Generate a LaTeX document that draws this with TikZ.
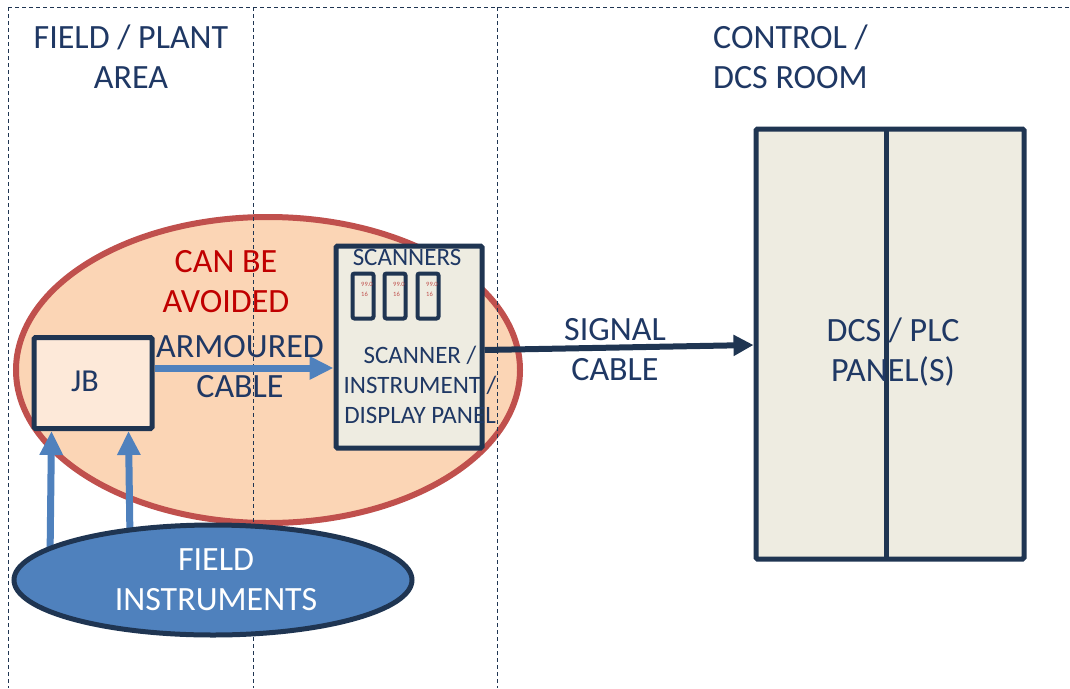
\documentclass[tikz,border=0pt]{standalone}
\usepackage{fontspec}
\setmainfont{Carlito}
\usetikzlibrary{shapes.geometric,arrows.meta,calc}
\definecolor{navy}{HTML}{1F3552}
\definecolor{txtnavy}{HTML}{1F3864}
\definecolor{redb}{HTML}{C0504D}
\definecolor{peach}{HTML}{FBD5B5}
\definecolor{lpeach}{HTML}{FDE9D9}
\definecolor{panel}{HTML}{EEECE1}
\definecolor{blueb}{HTML}{4F81BD}
\definecolor{darkred}{HTML}{C00000}
\tikzset{
  divider/.style={draw=navy, line width=1pt, dash pattern=on 4pt off 3pt},
  boxstyle/.style={draw=navy, line width=5pt, rounded corners=1.5pt, inner sep=0pt},
  bluearrow/.style={draw=blueb, line width=7pt, -{Triangle[width=22pt,length=24pt]}},
  navyarrow/.style={draw=navy, line width=6pt, -{Triangle[width=20pt,length=20pt]}},
  bigtxt/.style={text=txtnavy, font=\fontsize{34}{40}\selectfont, align=center, inner sep=0pt},
  midtxt/.style={text=txtnavy, font=\fontsize{25}{30}\selectfont, align=center, inner sep=0pt},
  tinytxt/.style={text=redb, font=\fontsize{6.5}{7}\selectfont, inner sep=0pt, anchor=west},
  scanbox/.style={draw=navy, line width=4pt, rounded corners=2pt, fill=panel, minimum width=21pt, minimum height=45pt, inner sep=0pt}
}
\begin{document}
\begin{tikzpicture}[x=1pt,y=-1pt]
\useasboundingbox[fill=white] (0,0) rectangle (1070,688);
% big ellipse
\node[ellipse, draw=redb, line width=6pt, fill=peach, minimum width=504pt, minimum height=306pt, inner sep=0pt] (big) at (268,370) {};
% zone dividers
\draw[divider] (8,7) -- (1070,7);
\draw[divider] (8,7) -- (8,688);
\draw[divider] (253,7) -- (253,688);
\draw[divider] (497,7) -- (497,688);
% zone titles
\node[bigtxt] (fieldtitle) at (131,57) {FIELD / PLANT\\AREA};
\node[bigtxt, align=left, anchor=west] (ctrltitle) at (713,57) {CONTROL /\\DCS ROOM};
% red text
\node[bigtxt, text=darkred] (avoid) at (226,282) {CAN BE\\AVOIDED};
% JB
\node[boxstyle, fill=lpeach, minimum width=118pt, minimum height=91pt] (jb) at (93,383) {};
\node[bigtxt, font=\fontsize{32}{36}\selectfont] (jbtxt) at (85,381) {JB};
% scanner panel
\node[boxstyle, fill=panel, minimum width=146pt, minimum height=202pt] (scan) at (409,347) {};
\node[midtxt, font=\fontsize{25}{28}\selectfont] (scanners) at (407,257) {SCANNERS};
\node[scanbox] (s1) at (363,296) {};
\node[scanbox] (s2) at (395,296) {};
\node[scanbox] (s3) at (428,296) {};
\foreach \s in {s1,s2,s3}{
  \node[tinytxt] at ($(\s.center)+(-2,-12)$) {99.0};
  \node[tinytxt] at ($(\s.center)+(-2,-2)$) {16};
}
\node[midtxt] (scantxt) at (420,385) {SCANNER /\\INSTRUMENT /\\DISPLAY PANEL};
% armoured cable
\coordinate (armA) at (jb.east |- 0,368);
\coordinate (armB) at (scan.west |- 0,368);
\draw[bluearrow] (armA) -- (armB);
\node[bigtxt] (armtxt) at (240,367) {ARMOURED\\CABLE};
% DCS panel
\node[boxstyle, fill=panel, minimum width=268pt, minimum height=430pt] (dcs) at (890,344) {};
\draw[draw=navy, line width=5pt] (886,128) -- (886,560);
\node[bigtxt] (dcstxt) at (893,352) {DCS / PLC\\PANEL(S)};
% signal cable
\coordinate (sigA) at (scan.east |- 0,350);
\coordinate (sigB) at (dcs.west |- 0,345);
\draw[navyarrow] (sigA) -- (sigB);
\node[bigtxt] (sigtxt) at (615,350) {SIGNAL\\CABLE};
% field instruments arrows
\coordinate (f1) at (50,560);
\coordinate (f2) at (130,540);
\coordinate (j1) at ($(jb.south west)+(20,0)$);
\coordinate (j2) at ($(jb.south west)+(97,0)$);
\draw[bluearrow] (f1) -- (j1);
\draw[bluearrow] (f2) -- (j2);
% field instruments
\node[ellipse, draw=navy, line width=5pt, fill=blueb, minimum width=398pt, minimum height=110pt, inner sep=0pt] (fi) at (213,580) {};
\node[bigtxt, text=white] (fitxt) at (216,580) {FIELD\\INSTRUMENTS};
\end{tikzpicture}
\end{document}
